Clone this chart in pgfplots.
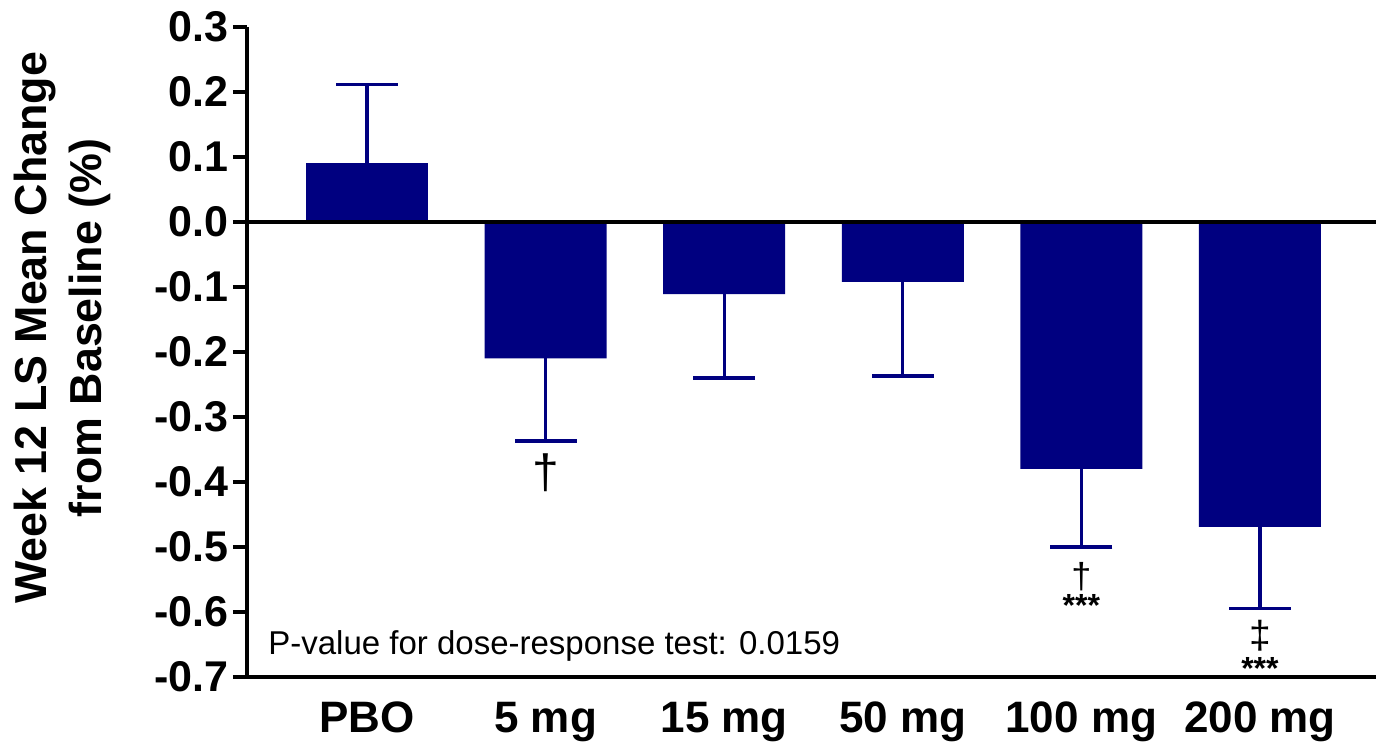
\documentclass[border=0pt]{standalone}
\usepackage{pgfplots}
\pgfplotsset{compat=1.18}
\usepackage{fontspec}
\setmainfont{Liberation Sans}
\definecolor{navybar}{RGB}{0,0,128}
\begin{document}
\begin{tikzpicture}
\begin{axis}[
  scale only axis,
  width=564.5pt, height=325pt,
  xmin=-0.672, xmax=5.65,
  ymin=-0.7, ymax=0.3,
  axis x line=bottom, axis y line=left,
  axis line style={line width=1.7pt, -},
  xtick={0,1,2,3,4,5},
  xticklabels={PBO,5 mg,15 mg,50 mg,100 mg,200 mg},
  x tick style={draw=none},
  ytick={-0.7,-0.6,...,0.31},
  y tick style={line width=1.7pt, black},
  tick align=outside,
  major tick length=7pt,
  /pgf/number format/assume math mode=true,
  yticklabel={\pgfmathprintnumber[fixed,fixed zerofill,precision=1]{\tick}},
  yticklabel style={font=\fontsize{21.5}{25}\selectfont\bfseries, inner xsep=2pt},
  xticklabel style={font=\fontsize{22}{26}\selectfont\bfseries, yshift=-2pt},
  ylabel={Week 12 LS Mean Change\\from Baseline (\%)},
  ylabel style={align=center, font=\fontsize{22.4}{27.5}\selectfont\bfseries, at={(axis description cs:-0.1639,0.537)}, anchor=center, rotate=0},
  clip=false,
]
\addplot[ybar, bar width=61pt, bar shift=0pt, fill=navybar, draw=none,
  error bars/.cd, y dir=plus, y explicit,
  error bar style={line width=1.6pt, navybar},
  error mark options={rotate=90, mark size=15.5pt, line width=1.6pt, navybar}]
  coordinates {(0,0.09) +- (0,0.121)};
\addplot[ybar, bar width=61pt, bar shift=0pt, fill=navybar, draw=none,
  error bars/.cd, y dir=minus, y explicit,
  error bar style={line width=1.6pt, navybar},
  error mark options={rotate=90, mark size=15.5pt, line width=1.6pt, navybar}]
  coordinates {(1,-0.21) +- (0,0.127) (2,-0.111) +- (0,0.129) (3,-0.092) +- (0,0.145) (4,-0.38) +- (0,0.12) (5,-0.469) +- (0,0.126)};
\draw[line width=1.7pt] (axis cs:-0.672,0) -- (axis cs:5.65,0);
\node[anchor=north, inner sep=0pt, font=\fontsize{24}{26}\selectfont, yshift=-6pt] at (axis cs:1,-0.337) {\textdagger};
\node[anchor=north, inner sep=0pt, font=\fontsize{18}{20}\selectfont, yshift=-7.5pt] at (axis cs:4,-0.50) {\textdagger};
\node[anchor=north, inner sep=0pt, font=\fontsize{16}{18}\selectfont\bfseries, yshift=-23.5pt] at (axis cs:4,-0.50) {***};
\node[anchor=north, inner sep=0pt, font=\fontsize{19.5}{21}\selectfont, yshift=-5.5pt] at (axis cs:5,-0.595) {\textdaggerdbl};
\node[anchor=north, inner sep=0pt, font=\fontsize{16}{18}\selectfont\bfseries, yshift=-24pt] at (axis cs:5,-0.595) {***};
\node[anchor=base west, inner sep=0pt, font=\fontsize{16.5}{19}\selectfont] at ([xshift=10.5pt,yshift=11pt]rel axis cs:0,0) {P-value for dose-response test: 0.0159};
\end{axis}
\pgfresetboundingbox
\path (current axis.south west) ++(-123.5pt,-33pt) rectangle ++(688pt,371.5pt);
\end{tikzpicture}
\end{document}
